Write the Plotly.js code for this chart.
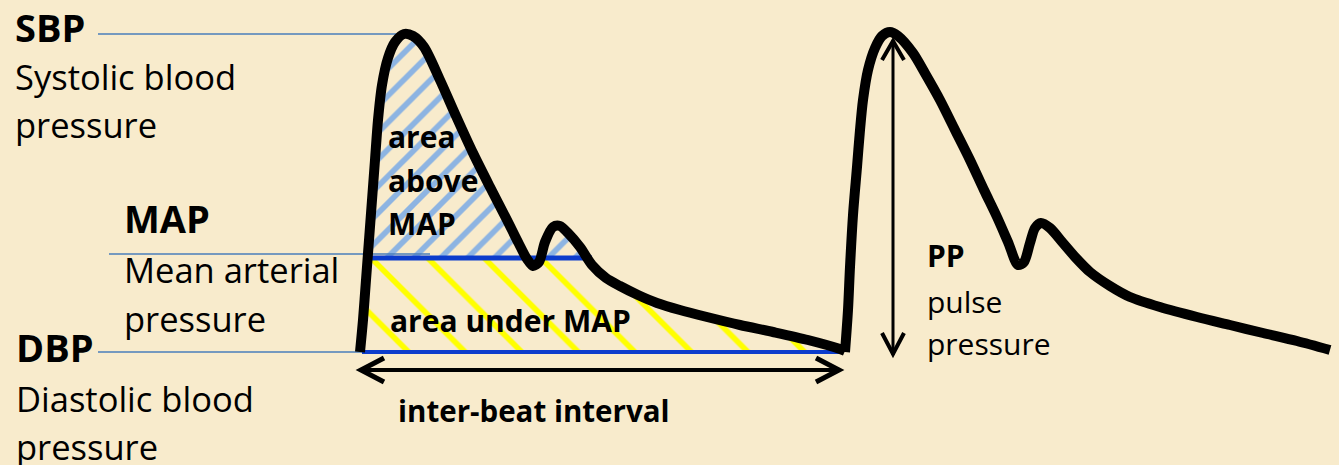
<!DOCTYPE html>
<html>
<head>
<meta charset="utf-8">
<script src="https://cdn.plot.ly/plotly-3.0.1.min.js"></script>
<style>
html, body { margin: 0; padding: 0; background: #f8ebcc; }
#chart { width: 1339px; height: 465px; }
</style>
</head>
<body>
<div id="chart"></div>
<script>
// arterial pressure waveform, diagram units (x: time, y: pressure drawn top-down)
var beat1X = [360, 363, 366, 369, 372, 375, 378, 382, 388, 395, 404, 413, 424, 440, 456, 473, 490, 507, 518, 527, 533, 539, 545, 553, 560, 568, 580, 592, 606, 620, 638, 657, 680, 707, 740, 773, 808, 840, 845];
var beat1Y = [352, 320, 280, 240, 200, 160, 120, 85, 58, 42, 34, 36, 47, 80, 116, 153, 187, 220, 242, 259, 266, 262, 242, 227, 226, 233, 247, 265, 278, 286, 295, 303, 310, 317, 325, 332, 340, 349, 351];

var beat2X = [845, 848, 850, 853, 857, 860, 863, 868, 875, 882, 890, 898, 913, 926, 940, 955, 970, 984, 997, 1008, 1018, 1024, 1030, 1035, 1041, 1050, 1063, 1076, 1090, 1110, 1130, 1160, 1197, 1230, 1263, 1297, 1330];
var beat2Y = [352, 310, 267, 215, 167, 130, 100, 70, 48, 36, 32, 36, 53, 75, 100, 130, 160, 190, 217, 242, 265, 262, 243, 228, 223, 228, 243, 258, 272, 286, 297, 307, 317, 325, 333, 341, 350];

// pressure levels
var SBP = 34, MAP = 258, DBP = 352;

// thin guide lines from the labels
var guideY  = [34, 254, 352];
var guideX0 = [98, 109, 98];
var guideX1 = [410, 430, 415];

// labels
var labelText = ['SBP', 'Systolic blood', 'pressure', 'MAP', 'Mean arterial', 'pressure',
                 'DBP', 'Diastolic blood', 'pressure', 'area', 'above', 'MAP',
                 'area under MAP', 'inter-beat interval', 'PP', 'pulse', 'pressure'];
var labelX    = [13, 13, 13, 122, 122, 122, 14, 14, 14, 386, 386, 386, 388, 396, 925, 925, 925];
var labelBase = [42, 90, 138, 233, 283, 332, 362, 412, 460, 148, 192, 235, 332, 422, 267, 313, 355];
var labelSize = [38, 34.5, 34.5, 38, 34.5, 34.5, 38, 34.5, 34.5, 30, 30, 30, 30, 29.5, 30, 30, 30];
var labelBold = [1, 0, 0, 1, 0, 0, 1, 0, 0, 1, 1, 1, 1, 1, 1, 0, 0];

var BLACK = '#000000';
var GUIDE = '#4a7ebb';
var DARKBLUE = '#0c3ccc';

var traces = [];

// hatched area under MAP (between MAP and DBP, inside the beat)
traces.push({
  x: beat1X, y: beat1Y.map(function (v) { return Math.max(v, MAP); }),
  type: 'scatter', mode: 'lines', fill: 'toself',
  fillcolor: 'rgba(0,0,0,0)',
  fillpattern: { shape: '\\', fgcolor: '#ffff00', bgcolor: 'rgba(0,0,0,0)', size: 40, solidity: 0.14 },
  line: { width: 0 }, hoverinfo: 'skip'
});

// hatched area above MAP
traces.push({
  x: beat1X, y: beat1Y.map(function (v) { return Math.min(v, MAP); }),
  type: 'scatter', mode: 'lines', fill: 'toself',
  fillcolor: 'rgba(0,0,0,0)',
  fillpattern: { shape: '/', fgcolor: '#8db4e2', bgcolor: 'rgba(0,0,0,0)', size: 19, solidity: 0.3 },
  line: { width: 0 }, hoverinfo: 'skip'
});

// guide lines
for (var i = 0; i < guideY.length; i++) {
  traces.push({
    x: [guideX0[i], guideX1[i]], y: [guideY[i], guideY[i]],
    type: 'scatter', mode: 'lines', line: { color: GUIDE, width: 1.5 }, hoverinfo: 'skip'
  });
}

// MAP and DBP levels
traces.push({ x: [368, 592], y: [MAP, MAP], type: 'scatter', mode: 'lines',
  line: { color: DARKBLUE, width: 5 }, hoverinfo: 'skip' });
traces.push({ x: [362, 843], y: [DBP, DBP], type: 'scatter', mode: 'lines',
  line: { color: DARKBLUE, width: 4 }, hoverinfo: 'skip' });

// the two beats
traces.push({ x: beat1X, y: beat1Y, type: 'scatter', mode: 'lines',
  line: { color: BLACK, width: 10, shape: 'spline', smoothing: 0.8 }, hoverinfo: 'skip' });
traces.push({ x: beat2X, y: beat2Y, type: 'scatter', mode: 'lines',
  line: { color: BLACK, width: 10, shape: 'spline', smoothing: 0.8 }, hoverinfo: 'skip' });

// double arrows: inter-beat interval and pulse pressure
var ibiY = 370, ibiX0 = beat1X[0], ibiX1 = 840;
var ppX = 893, ppY0 = SBP + 6, ppY1 = DBP + 3;
var shapes = [
  { type: 'line', x0: ibiX0, x1: ibiX1, y0: ibiY, y1: ibiY, line: { color: BLACK, width: 4 } },
  { type: 'path', path: 'M ' + (ibiX0 + 24) + ' ' + (ibiY - 12) + ' L ' + (ibiX0 + 1) + ' ' + ibiY + ' L ' + (ibiX0 + 24) + ' ' + (ibiY + 12),
    line: { color: BLACK, width: 5 } },
  { type: 'path', path: 'M ' + (ibiX1 - 24) + ' ' + (ibiY - 12) + ' L ' + (ibiX1 - 1) + ' ' + ibiY + ' L ' + (ibiX1 - 24) + ' ' + (ibiY + 12),
    line: { color: BLACK, width: 5 } },
  { type: 'line', x0: ppX, x1: ppX, y0: ppY0, y1: ppY1, line: { color: BLACK, width: 3 } },
  { type: 'path', path: 'M ' + (ppX - 11) + ' ' + (ppY0 + 20) + ' L ' + ppX + ' ' + (ppY0 + 1) + ' L ' + (ppX + 11) + ' ' + (ppY0 + 20),
    line: { color: BLACK, width: 4 } },
  { type: 'path', path: 'M ' + (ppX - 11) + ' ' + (ppY1 - 22) + ' L ' + ppX + ' ' + (ppY1 - 1) + ' L ' + (ppX + 11) + ' ' + (ppY1 - 22),
    line: { color: BLACK, width: 4 } }
];

var annotations = labelText.map(function (t, k) {
  return {
    text: t, x: labelX[k], y: labelBase[k] - 0.39 * labelSize[k],
    xref: 'x', yref: 'y', xanchor: 'left', yanchor: 'middle', showarrow: false,
    font: { family: 'Open Sans, sans-serif', size: labelSize[k], color: BLACK, weight: labelBold[k] ? 700 : 400 }
  };
});

var layout = {
  width: 1339, height: 465,
  margin: { l: 0, r: 0, t: 0, b: 0 },
  paper_bgcolor: '#f8ebcc', plot_bgcolor: '#f8ebcc',
  showlegend: false,
  xaxis: { range: [0, 1339], visible: false, fixedrange: true },
  yaxis: { range: [465, 0], visible: false, fixedrange: true },
  shapes: shapes,
  annotations: annotations
};

Plotly.newPlot('chart', traces, layout, { staticPlot: true, displayModeBar: false });
</script>
</body>
</html>
